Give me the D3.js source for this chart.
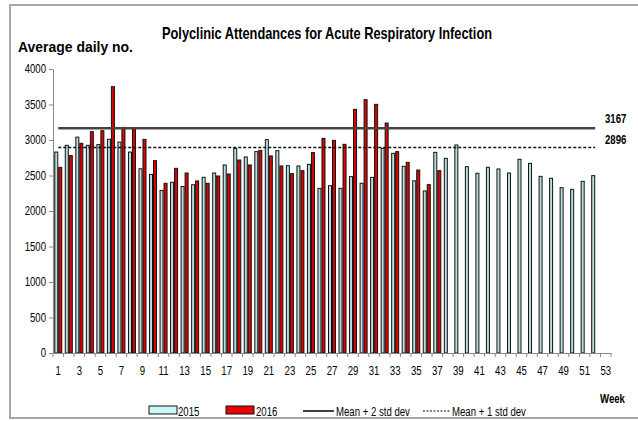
<!DOCTYPE html>
<html>
<head>
<meta charset="utf-8">
<script src="https://cdn.jsdelivr.net/npm/d3@7"></script>
<style>
  html, body { margin: 0; padding: 0; background: #fff; }
  svg text { font-family: "Liberation Sans", Arial, sans-serif; }
</style>
</head>
<body>
<svg id="chart" width="638" height="421"></svg>
<script>
const weeks = d3.range(1, 54);
const values2015 = [2830, 2925, 3040, 2925, 2935, 3010, 2970, 2830, 2595, 2515,
  2290, 2405, 2345, 2370, 2475, 2535, 2648, 2883, 2761, 2836,
  3005, 2850, 2638, 2634, 2657, 2319, 2357, 2319, 2484, 2390,
  2474, 2883, 2812, 2629, 2425, 2282, 2826, 2742, 2930, 2624,
  2531, 2615, 2592, 2535, 2728, 2671, 2488, 2460, 2329, 2305,
  2418, 2498, null];
const values2016 = [2615, 2779, 2953, 3117, 3131, 3751, 3178, 3160, 3009, 2709,
  2390, 2601, 2535, 2423, 2390, 2493, 2521, 2718, 2648, 2854,
  2775, 2634, 2526, 2568, 2822, 3023, 2995, 2939, 3432, 3568,
  3502, 3239, 2836, 2685, 2577, 2371, 2568];
const seriesNames = ["2015", "2016"];
const thresholdValues = [3167, 2896];
const thresholdNames = ["Mean + 2 std dev", "Mean + 1 std dev"];
const yTicks = [0, 500, 1000, 1500, 2000, 2500, 3000, 3500, 4000];
const xTickLabels = weeks.filter(w => w % 2 === 1);

const svg = d3.select("#chart");

// outer frame
svg.append("rect").attr("x", 10).attr("y", 5).attr("width", 640).attr("height", 413)
  .attr("fill", "none").attr("stroke", "#a6a6a6").attr("stroke-width", 2);

const x = d3.scaleBand().domain(weeks).range([53, 611]).paddingInner(0.24).paddingOuter(0.12);
const xs = d3.scaleBand().domain(seriesNames).range([0, x.bandwidth()]);
const y = d3.scaleLinear().domain([0, 4000]).range([353, 69]);

// title
svg.append("text").attr("x", 327).attr("y", 39).attr("text-anchor", "middle")
  .attr("font-size", 17).attr("font-weight", "bold").attr("fill", "#000")
  .attr("class", "fit").attr("data-w", 330)
  .text("Polyclinic Attendances for Acute Respiratory Infection");
svg.append("text").attr("x", 18).attr("y", 52)
  .attr("font-size", 14).attr("font-weight", "bold").attr("fill", "#000")
  .attr("class", "fit").attr("data-w", 115)
  .text("Average daily no.");

// bars
const colors = { "2015": "#b7dfdf", "2016": "#e00000" };
const rows = [];
weeks.forEach((w, i) => {
  if (values2015[i] != null) rows.push({ week: w, s: "2015", v: values2015[i] });
  if (values2016[i] != null) rows.push({ week: w, s: "2016", v: values2016[i] });
});
svg.append("g").selectAll("rect").data(rows).join("rect")
  .attr("x", d => x(d.week) + xs(d.s) + 0.5)
  .attr("y", d => y(d.v))
  .attr("width", xs.bandwidth() - 1)
  .attr("height", d => y(0) - y(d.v))
  .attr("fill", d => colors[d.s])
  .attr("stroke", "#111").attr("stroke-width", 1);

// y axis
const yAxis = svg.append("g").attr("transform", "translate(53,0)")
  .call(d3.axisLeft(y).tickValues(yTicks).tickFormat(d3.format("d")).tickSize(4).tickSizeOuter(0).tickPadding(3));
yAxis.selectAll("path, line").attr("stroke", "#888");
yAxis.selectAll("text").attr("font-size", 12).attr("fill", "#000")
  .style("font-family", '"Liberation Sans", Arial, sans-serif');

// x axis
const xAxis = svg.append("g").attr("transform", "translate(0,353)")
  .call(d3.axisBottom(x).tickValues(xTickLabels).tickSize(0).tickPadding(13));
xAxis.select("path").attr("stroke", "#888");
xAxis.selectAll("text").attr("font-size", 12).attr("fill", "#000")
  .style("font-family", '"Liberation Sans", Arial, sans-serif');
// category boundary ticks
svg.append("g").selectAll("line").data(weeks.concat([54])).join("line")
  .attr("x1", w => w <= 53 ? x(w) - x.step() * x.paddingInner() / 2 : 611)
  .attr("x2", w => w <= 53 ? x(w) - x.step() * x.paddingInner() / 2 : 611)
  .attr("y1", 353).attr("y2", 357).attr("stroke", "#888");

// threshold lines
const lx1 = x(1) + x.bandwidth() / 2, lx2 = x(52) + x.bandwidth() / 2;
svg.append("line").attr("x1", lx1).attr("x2", lx2)
  .attr("y1", y(thresholdValues[0])).attr("y2", y(thresholdValues[0]))
  .attr("stroke", "#444").attr("stroke-width", 2.5);
svg.append("line").attr("x1", lx1).attr("x2", lx2)
  .attr("y1", y(thresholdValues[1])).attr("y2", y(thresholdValues[1]))
  .attr("stroke", "#111").attr("stroke-width", 1.5).attr("stroke-dasharray", "3,2");
svg.append("text").attr("x", 605).attr("y", y(thresholdValues[0]) - 5)
  .attr("font-size", 12).attr("font-weight", "bold").text(thresholdValues[0]);
svg.append("text").attr("x", 605).attr("y", y(thresholdValues[1]) - 3)
  .attr("font-size", 12).attr("font-weight", "bold").text(thresholdValues[1]);

// Week label
svg.append("text").attr("x", 600).attr("y", 403)
  .attr("font-size", 12).attr("font-weight", "bold").text("Week");

// legend
const ly = 411;
const lg = svg.append("g");
lg.append("rect").attr("x", 149).attr("y", ly - 5).attr("width", 28).attr("height", 8)
  .attr("fill", "#ccf7f7").attr("stroke", "#111");
lg.append("text").attr("x", 178).attr("y", ly + 5).attr("font-size", 12).text(seriesNames[0]);
lg.append("rect").attr("x", 226).attr("y", ly - 5).attr("width", 28).attr("height", 8)
  .attr("fill", "#ee0000").attr("stroke", "#111");
lg.append("text").attr("x", 256).attr("y", ly + 5).attr("font-size", 12).text(seriesNames[1]);
lg.append("line").attr("x1", 303).attr("x2", 334).attr("y1", ly).attr("y2", ly)
  .attr("stroke", "#000").attr("stroke-width", 1.5);
lg.append("text").attr("x", 336).attr("y", ly + 5).attr("font-size", 12).text(thresholdNames[0]);
lg.append("line").attr("x1", 423).attr("x2", 450).attr("y1", ly).attr("y2", ly)
  .attr("stroke", "#000").attr("stroke-width", 1.2).attr("stroke-dasharray", "2,1.5");
lg.append("text").attr("x", 452).attr("y", ly + 5).attr("font-size", 12).text(thresholdNames[1]);

// condense all text to mimic a narrow typeface
svg.selectAll("text").each(function () {
  const t = d3.select(this);
  const natural = this.getComputedTextLength();
  const target = t.attr("data-w") ? +t.attr("data-w") : natural * 0.8;
  t.attr("textLength", target).attr("lengthAdjust", "spacingAndGlyphs");
});
</script>
</body>
</html>
